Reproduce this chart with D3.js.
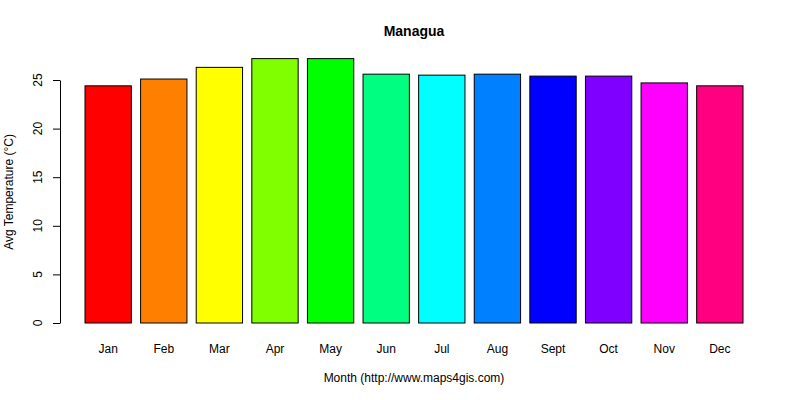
<!DOCTYPE html>
<html>
<head>
<meta charset="utf-8">
<script src="https://cdn.jsdelivr.net/npm/d3@7"></script>
<style>
  body { margin: 0; background: #fff; }
  text { font-family: "Liberation Sans", Arial, sans-serif; }
</style>
</head>
<body>
<div id="chart"></div>
<script>
// Data
const months = ["Jan", "Feb", "Mar", "Apr", "May", "Jun", "Jul", "Aug", "Sept", "Oct", "Nov", "Dec"];
const temps = [24.4, 25.1, 26.3, 27.2, 27.2, 25.6, 25.5, 25.6, 25.4, 25.4, 24.7, 24.4];
const colors = ["#FF0000", "#FF8000", "#FFFF00", "#80FF00", "#00FF00", "#00FF80",
                "#00FFFF", "#0080FF", "#0000FF", "#8000FF", "#FF00FF", "#FF0080"];
const yTicks = [0, 5, 10, 15, 20, 25];

const width = 800, height = 400;

const svg = d3.select("#chart").append("svg")
  .attr("width", width)
  .attr("height", height);

const x = d3.scaleBand()
  .domain(months)
  .range([85, 743])
  .paddingInner(1 / 6)
  .paddingOuter(0);

const y = d3.scaleLinear()
  .domain([0, 25])
  .range([323, 80]);

// bars
svg.append("g")
  .selectAll("rect")
  .data(months)
  .enter().append("rect")
  .attr("x", d => x(d))
  .attr("y", (d, i) => y(temps[i]))
  .attr("width", x.bandwidth())
  .attr("height", (d, i) => y(0) - y(temps[i]))
  .attr("fill", (d, i) => colors[i])
  .attr("stroke", "#000")
  .attr("stroke-width", 1);

// y axis (line + ticks from d3, labels drawn rotated)
const yAxis = svg.append("g")
  .attr("transform", "translate(60,0)")
  .call(d3.axisLeft(y).tickValues(yTicks).tickSize(7).tickSizeOuter(0).tickFormat(""));
yAxis.select(".domain").attr("stroke", "#000");
yAxis.selectAll("line").attr("stroke", "#000");

svg.append("g")
  .selectAll("text")
  .data(yTicks)
  .enter().append("text")
  .attr("transform", d => `translate(42,${y(d)}) rotate(-90)`)
  .attr("text-anchor", "middle")
  .attr("font-size", 12)
  .text(d => d);

// month labels
svg.append("g")
  .selectAll("text")
  .data(months)
  .enter().append("text")
  .attr("x", d => x(d) + x.bandwidth() / 2)
  .attr("y", 353)
  .attr("text-anchor", "middle")
  .attr("font-size", 12)
  .text(d => d);

// titles
svg.append("text")
  .attr("x", 414).attr("y", 36)
  .attr("text-anchor", "middle")
  .attr("font-size", 14).attr("font-weight", "bold")
  .text("Managua");

svg.append("text")
  .attr("x", 414).attr("y", 382)
  .attr("text-anchor", "middle")
  .attr("font-size", 12)
  .text("Month (http://www.maps4gis.com)");

svg.append("text")
  .attr("transform", "translate(13,192) rotate(-90)")
  .attr("text-anchor", "middle")
  .attr("font-size", 12)
  .text("Avg Temperature (°C)");
</script>
</body>
</html>
